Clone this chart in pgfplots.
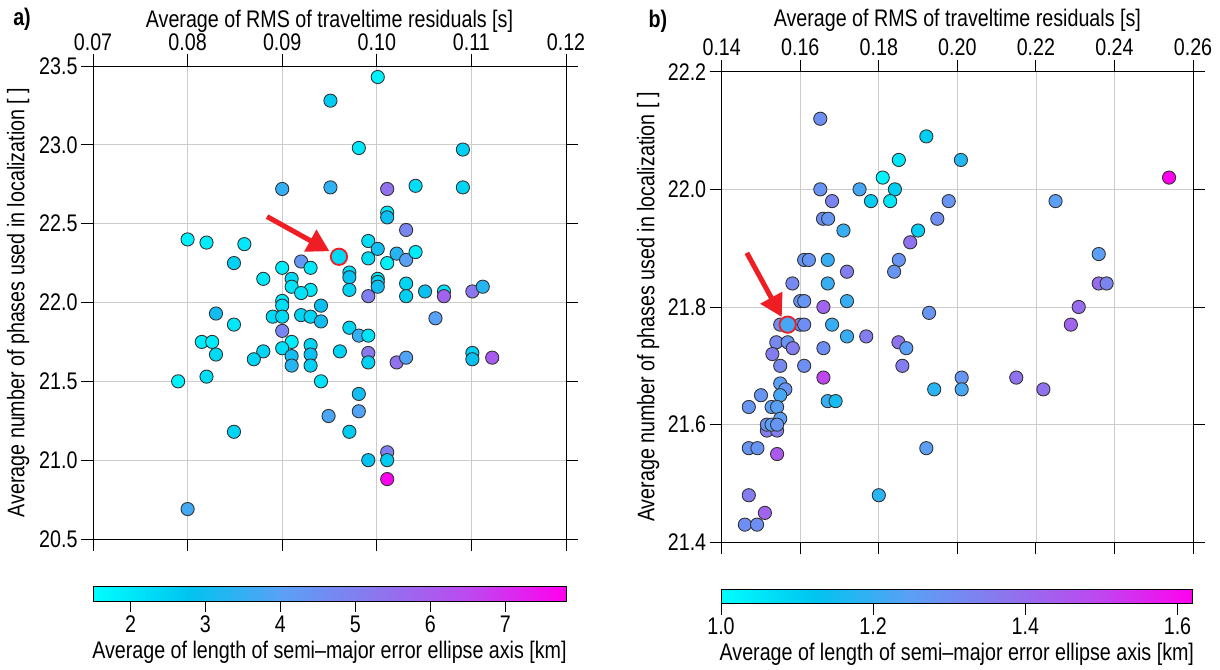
\documentclass[border=0pt]{standalone}
\usepackage{fontspec}
\setmainfont{Liberation Sans}[FakeStretch=0.82]
\usepackage{pgfplots}
\usepackage{pgfplotstable}
\pgfplotsset{compat=1.18}
\usetikzlibrary{arrows.meta}

\definecolor{arrred}{RGB}{238,30,36}
\newcommand{\lblfont}{\fontsize{24}{27}\selectfont}

% cyan -> blue -> purple -> magenta
\pgfplotsset{
  colormap={errcm}{rgb255=(0,255,255) rgb255=(0,196,240) rgb255=(90,160,246)
                   rgb255=(140,118,238) rgb255=(190,72,240) rgb255=(255,0,238)},
  panel/.style={
    scale only axis,
    colormap name=errcm,
    tick align=outside,
    major tick length=12pt,
    xticklabel pos=upper,
    grid=major,
    major grid style={gray!40, line width=0.8pt},
    axis line style={black, line width=0.9pt},
    every tick/.style={black, line width=0.9pt},
    tick label style={font=\lblfont},
    label style={font=\lblfont},
    /pgf/number format/assume math mode=true,
    ylabel={Average number of phases used in localization [ ]},
    xlabel={Average of RMS of traveltime residuals [s]},
  },
  pts/.style={scatter, only marks, mark=*, mark size=6.6pt,
    scatter src=explicit,
    scatter/use mapped color={draw=black!80, fill=mapped color},
    mark options={line width=0.9pt}},
  hpt/.style={scatter, only marks, mark=*, mark size=8.2pt,
    scatter src=explicit,
    scatter/use mapped color={draw=arrred, fill=mapped color},
    mark options={line width=1.8pt}},
  % colour bar drawn as its own thin axis
  cbar/.style={
    scale only axis, anchor=south west,
    colormap name=errcm,
    ymin=0, ymax=1, ytick=\empty,
    axis on top,
    tick align=outside, major tick length=11pt,
    xtick pos=bottom, xticklabel pos=lower,
    axis line style={black, line width=0.8pt},
    every tick/.style={draw=black, line width=0.9pt},
    tick label style={font=\lblfont},
    label style={font=\lblfont},
    /pgf/number format/assume math mode=true,
    xlabel={Average of length of semi--major error ellipse axis [km]},
  },
  ramp/.style={surf, shader=interp, point meta=x},
}

\pgfplotstableread{
x y c
0.0951 23.28 2.6
0.1001 23.43 1.8
0.0981 22.98 2.0
0.1091 22.97 2.5
0.0900 22.72 3.5
0.0951 22.73 3.4
0.1011 22.72 5.4
0.1041 22.74 2.2
0.1091 22.73 2.4
0.1011 22.57 2.0
0.1011 22.54 2.9
0.1031 22.46 4.8
0.0800 22.40 1.8
0.0820 22.38 1.9
0.0860 22.37 2.0
0.0849 22.25 2.5
0.0920 22.26 4.3
0.0900 22.22 1.9
0.0930 22.22 2.0
0.0880 22.15 2.0
0.0910 22.15 2.3
0.0910 22.10 2.1
0.0930 22.08 2.0
0.0920 22.06 2.1
0.0900 22.01 2.0
0.0900 21.98 2.2
0.0991 22.39 2.2
0.1001 22.34 3.0
0.0991 22.28 2.2
0.1021 22.31 3.3
0.1031 22.27 4.0
0.1041 22.32 1.9
0.1011 22.25 1.8
0.0971 22.19 2.3
0.0971 22.16 2.8
0.0971 22.08 2.4
0.1001 22.15 2.0
0.1001 22.13 2.5
0.1001 22.10 3.0
0.1031 22.12 2.4
0.1031 22.04 2.5
0.0991 22.04 5.0
0.1051 22.07 2.9
0.1071 22.07 2.1
0.1071 22.04 5.8
0.1101 22.07 5.3
0.1112 22.10 3.3
0.0941 21.98 2.9
0.0830 21.93 3.0
0.0890 21.91 2.3
0.0900 21.91 2.3
0.0920 21.92 2.4
0.0930 21.91 2.4
0.0941 21.88 3.0
0.0849 21.86 2.0
0.0900 21.82 4.8
0.0815 21.75 1.9
0.0826 21.75 1.9
0.0910 21.75 1.8
0.0880 21.69 2.4
0.0870 21.64 2.4
0.0830 21.67 2.3
0.0900 21.71 2.2
0.0910 21.66 3.0
0.0910 21.60 3.3
0.0930 21.73 2.4
0.0930 21.67 2.9
0.0930 21.60 2.5
0.0790 21.50 1.8
0.0820 21.53 2.2
0.0941 21.50 2.1
0.0949 21.28 3.8
0.0849 21.18 2.4
0.0800 20.69 3.7
0.1062 21.90 4.0
0.0971 21.84 2.4
0.0981 21.79 3.5
0.0991 21.79 2.1
0.0961 21.69 2.4
0.0991 21.68 5.2
0.0991 21.62 2.5
0.1021 21.62 5.4
0.1031 21.65 3.9
0.1101 21.68 2.5
0.1101 21.64 2.9
0.1122 21.65 6.0
0.0981 21.42 3.0
0.0981 21.31 3.9
0.0971 21.18 2.6
0.0991 21.00 2.8
0.1011 21.05 5.0
0.1011 21.00 2.6
0.1011 20.88 7.8
}\dataA

\pgfplotstableread{
x y c
0.0960 22.29 2.3
}\highA

\pgfplotstableread{
x y c
0.1651 22.12 1.30
0.1921 22.09 1.10
0.1851 22.05 1.05
0.2009 22.05 1.17
0.1810 22.02 1.02
0.1651 22.00 1.28
0.1751 22.00 1.22
0.1841 22.00 1.10
0.1681 21.98 1.33
0.1780 21.98 1.10
0.1829 21.98 1.05
0.1978 21.98 1.28
0.1658 21.95 1.30
0.1671 21.95 1.28
0.1710 21.93 1.20
0.1949 21.95 1.30
0.1900 21.93 1.10
0.1880 21.91 1.38
0.1610 21.88 1.28
0.1622 21.88 1.28
0.1670 21.88 1.20
0.1851 21.88 1.28
0.1839 21.86 1.28
0.1719 21.86 1.35
0.1580 21.84 1.32
0.1670 21.84 1.20
0.1600 21.81 1.28
0.1610 21.81 1.28
0.1719 21.81 1.20
0.2539 22.02 1.62
0.2250 21.98 1.25
0.2360 21.89 1.25
0.2360 21.84 1.40
0.2380 21.84 1.33
0.1659 21.80 1.42
0.1928 21.79 1.28
0.1549 21.77 1.30
0.1600 21.77 1.30
0.1610 21.77 1.30
0.1681 21.77 1.20
0.1719 21.75 1.20
0.1768 21.75 1.35
0.1850 21.74 1.38
0.1870 21.73 1.25
0.1539 21.74 1.32
0.1568 21.74 1.28
0.1581 21.73 1.35
0.1529 21.72 1.35
0.1659 21.73 1.30
0.1549 21.70 1.32
0.1610 21.70 1.30
0.1860 21.70 1.35
0.1659 21.68 1.50
0.1549 21.67 1.25
0.1562 21.66 1.28
0.1549 21.65 1.22
0.1500 21.65 1.28
0.1469 21.63 1.28
0.1527 21.63 1.25
0.1541 21.63 1.25
0.1670 21.64 1.20
0.1690 21.64 1.15
0.1549 21.61 1.25
0.1515 21.59 1.35
0.1541 21.59 1.35
0.1515 21.60 1.28
0.1527 21.60 1.25
0.1541 21.60 1.28
0.1469 21.56 1.28
0.1491 21.56 1.28
0.1541 21.55 1.45
0.1921 21.56 1.25
0.1469 21.48 1.35
0.1800 21.48 1.18
0.1510 21.45 1.42
0.1459 21.43 1.30
0.1490 21.43 1.30
0.2309 21.80 1.40
0.2289 21.77 1.42
0.2011 21.68 1.28
0.2011 21.66 1.22
0.2150 21.68 1.38
0.2219 21.66 1.38
0.1941 21.66 1.18
}\dataB

\pgfplotstableread{
x y c
0.1568 21.77 1.22
}\highB

\begin{document}
\begin{tikzpicture}
\path[use as bounding box] (0,0) rectangle (1220pt,669pt);

% ---- panel a ----
\begin{axis}[panel,
  at={(93pt,130pt)}, anchor=south west,
  width=473pt, height=473pt,
  xmin=0.07, xmax=0.12, ymin=20.5, ymax=23.5,
  xtick={0.07,0.08,0.09,0.10,0.11,0.12},
  ytick={20.5,21.0,21.5,22.0,22.5,23.0,23.5},
  xticklabel style={/pgf/number format/.cd, fixed, fixed zerofill, precision=2},
  yticklabel style={/pgf/number format/.cd, fixed, fixed zerofill, precision=1},
  xlabel style={at={(axis description cs:0.5,1.095)}, anchor=center},
  ylabel style={at={(axis description cs:-0.158,0.5)}, anchor=center},
  point meta min=1.5, point meta max=7.81,
]
\addplot[pts] table[x=x, y=y, meta=c] {\dataA};
\addplot[hpt] table[x=x, y=y, meta=c] {\highA};
\draw[arrred, line width=5pt, -{Triangle[length=22pt, width=24pt]}]
  (axis cs:0.0884,22.545) -- (axis cs:0.0950,22.325);
\end{axis}

% colour bar a
\begin{axis}[cbar,
  at={(93pt,68pt)}, width=473pt, height=15pt,
  xmin=1.5, xmax=7.81, xtick={2,3,4,5,6,7},
  point meta min=1.5, point meta max=7.81,
  xlabel style={at={(axis description cs:0.5,-3.4)}, anchor=center},
]
\addplot[ramp] table {
x y
1.5 0
2.762 0
4.024 0
5.286 0
6.548 0
7.81 0

1.5 1
2.762 1
4.024 1
5.286 1
6.548 1
7.81 1
};
\end{axis}

% ---- panel b ----
\begin{axis}[panel,
  at={(721.7pt,126.7pt)}, anchor=south west,
  width=471.3pt, height=470.6pt,
  xmin=0.14, xmax=0.26, ymin=21.4, ymax=22.2,
  xtick={0.14,0.16,0.18,0.20,0.22,0.24,0.26},
  ytick={21.4,21.6,21.8,22.0,22.2},
  xticklabel style={/pgf/number format/.cd, fixed, fixed zerofill, precision=2},
  yticklabel style={/pgf/number format/.cd, fixed, fixed zerofill, precision=1},
  xlabel style={at={(axis description cs:0.5,1.11)}, anchor=center},
  ylabel style={at={(axis description cs:-0.156,0.5)}, anchor=center},
  point meta min=1.0, point meta max=1.62,
]
\addplot[pts] table[x=x, y=y, meta=c] {\dataB};
\addplot[hpt] table[x=x, y=y, meta=c] {\highB};
\draw[arrred, line width=5pt, -{Triangle[length=22pt, width=24pt]}]
  (axis cs:0.1464,21.892) -- (axis cs:0.1553,21.783);
\end{axis}

% colour bar b
\begin{axis}[cbar,
  at={(721pt,65.3pt)}, width=471.7pt, height=14.4pt,
  xmin=1.0, xmax=1.62, xtick={1.0,1.2,1.4,1.6},
  xticklabel style={/pgf/number format/.cd, fixed, fixed zerofill, precision=1},
  point meta min=1.0, point meta max=1.62,
  xlabel style={at={(axis description cs:0.5,-3.5)}, anchor=center},
]
\addplot[ramp] table {
x y
1.0 0
1.124 0
1.248 0
1.372 0
1.496 0
1.62 0

1.0 1
1.124 1
1.248 1
1.372 1
1.496 1
1.62 1
};
\end{axis}

\node[font=\bfseries\fontsize{24}{27}\selectfont] at (22pt,650pt) {a)};
\node[font=\bfseries\fontsize{24}{27}\selectfont] at (658pt,648pt) {b)};
\end{tikzpicture}
\end{document}
